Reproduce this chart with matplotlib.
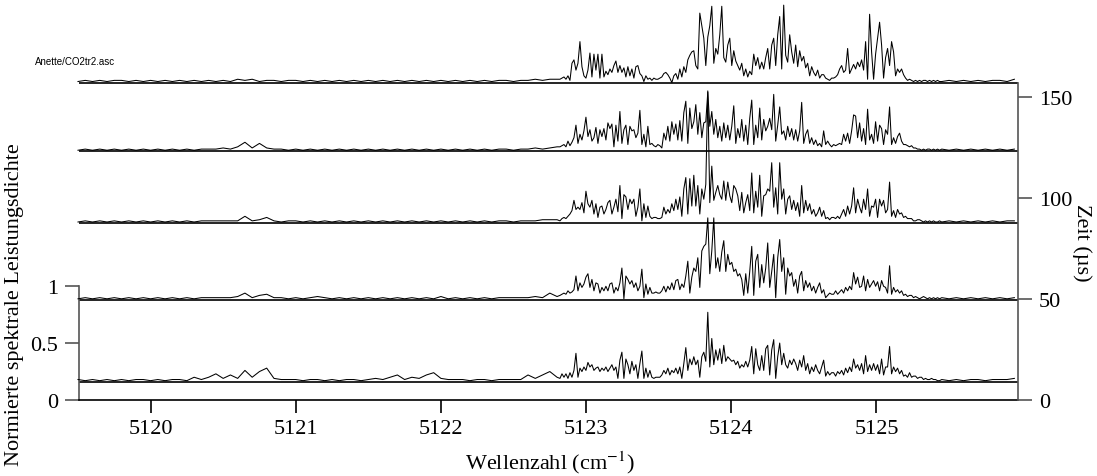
import sys
import numpy as np
import matplotlib
matplotlib.use("Agg")
import matplotlib.pyplot as plt

plt.rcParams['font.family'] = ['Liberation Serif', 'DejaVu Serif']
plt.rcParams['mathtext.fontset'] = 'stix'

# delay time of each spectrum (µs), bottom to top
zeit_us = [9.0, 49.5, 87.5, 123.0, 157.0]

# wavenumber sampling (cm^-1)
wn_left = np.linspace(5119.50, 5122.80, 67)
wn_band = 5122.82 + 0.01376 * np.arange(191)
wn_right = np.linspace(5125.45, 5125.95, 11)

# ---- normalised spectral power density, spectrum at 9 µs ----
psd_9_left = [.02,.01,.02,.01,.02,.01,.02,.01,.02,.02,
              .01,.02,.01,.02,.02,.01,.04,.02,.04,.07,
              .03,.06,.03,.10,.04,.09,.12,.03,.02,.02,
              .02,.01,.02,.02,.01,.02,.01,.02,.02,.01,
              .02,.03,.02,.04,.06,.02,.04,.03,.06,.08,
              .03,.02,.02,.02,.01,.02,.02,.01,.02,.02,
              .02,.02,.06,.03,.06,.09,.04]
psd_9_band = [.03,.07,.04,.07,.03,.08,.04,.10,.25,.04,
              .12,.09,.13,.10,.17,.13,.15,.10,.12,.13,
              .09,.12,.10,.13,.09,.12,.15,.10,.13,.03,
              .19,.26,.03,.20,.15,.07,.18,.10,.15,.03,
              .16,.27,.03,.12,.04,.10,.04,.03,.04,.04,
              .04,.06,.10,.07,.12,.06,.10,.08,.12,.07,
              .13,.03,.16,.30,.10,.20,.15,.22,.15,.19,
              .04,.22,.26,.18,.61,.13,.38,.15,.28,.19,
              .29,.16,.32,.18,.22,.20,.18,.19,.15,.18,
              .12,.15,.13,.18,.13,.19,.31,.07,.29,.15,
              .10,.23,.10,.29,.32,.06,.28,.37,.03,.22,
              .34,.15,.25,.15,.12,.19,.15,.20,.16,.10,
              .19,.13,.23,.10,.16,.07,.13,.09,.15,.10,
              .07,.13,.19,.05,.09,.06,.08,.08,.05,.09,
              .07,.10,.06,.12,.08,.13,.09,.20,.12,.15,
              .10,.16,.07,.23,.09,.15,.10,.16,.10,.15,
              .07,.20,.06,.13,.13,.31,.07,.13,.09,.12,
              .07,.10,.05,.06,.04,.08,.04,.05,.05,.03,
              .04,.04,.02,.03,.02,.02,.03,.02,.02,.01,
              .01]
psd_9_right = [.02,.01,.02,.01,.02,.02,.01,.02,.02,.02,.03]

# ---- spectrum at 49.5 µs ----
psd_50_left = [.01,.02,.01,.02,.01,.02,.01,.02,.01,.02,
               .01,.02,.01,.02,.01,.02,.01,.02,.02,.02,
               .02,.02,.03,.06,.02,.04,.05,.02,.02,.01,
               .02,.01,.02,.03,.02,.01,.02,.01,.02,.01,
               .02,.01,.02,.01,.02,.01,.02,.01,.02,.01,
               .03,.01,.02,.01,.02,.01,.02,.01,.02,.02,
               .02,.02,.02,.03,.02,.06,.03]
psd_50_band = [.04,.05,.06,.05,.08,.06,.07,.09,.21,.08,
               .15,.11,.14,.20,.23,.11,.18,.08,.15,.14,
               .06,.11,.08,.12,.08,.14,.15,.06,.11,.08,
               .15,.28,.01,.21,.18,.14,.17,.11,.15,.08,
               .12,.27,.02,.14,.05,.11,.06,.06,.07,.06,
               .06,.08,.12,.07,.12,.09,.15,.09,.17,.18,
               .09,.14,.11,.21,.34,.06,.20,.28,.25,.37,
               .11,.43,.47,.49,.72,.23,.43,.72,.28,.37,
               .25,.42,.52,.25,.40,.31,.33,.25,.27,.21,
               .23,.18,.04,.23,.06,.25,.47,.04,.34,.40,
               .11,.31,.15,.28,.50,.11,.25,.40,.02,.37,
               .53,.25,.37,.05,.28,.21,.24,.12,.18,.06,
               .21,.25,.08,.17,.11,.15,.08,.12,.06,.11,
               .15,.06,.09,.02,.04,.06,.05,.05,.08,.05,
               .07,.09,.06,.11,.08,.12,.09,.24,.14,.20,
               .11,.12,.21,.08,.18,.11,.14,.17,.12,.16,
               .08,.17,.12,.11,.06,.30,.05,.11,.07,.09,
               .06,.08,.04,.05,.03,.04,.04,.02,.03,.02,
               .01,.02,.03,.02,.01,.02,.01,.02,.01,.02,
               .01]
psd_50_right = [.02,.01,.02,.01,.02,.01,.02,.01,.02,.01,.02]

# ---- spectrum at 87.5 µs ----
psd_88_left = [.01,.02,.01,.02,.01,.02,.01,.02,.01,.02,
               .01,.02,.01,.02,.01,.02,.01,.02,.02,.02,
               .02,.02,.02,.06,.02,.03,.05,.02,.01,.02,
               .02,.01,.02,.01,.02,.01,.02,.01,.02,.01,
               .02,.01,.02,.01,.02,.01,.02,.01,.02,.01,
               .02,.01,.02,.01,.02,.01,.02,.01,.02,.02,
               .01,.02,.02,.02,.03,.03,.03]
psd_88_band = [.02,.04,.05,.04,.06,.08,.11,.20,.12,.14,
               .12,.18,.09,.28,.17,.14,.20,.08,.17,.05,
               .14,.15,.08,.12,.18,.20,.08,.14,.21,.10,
               .33,.04,.25,.23,.12,.21,.17,.21,.06,.14,
               .30,.02,.17,.05,.15,.06,.04,.05,.05,.04,
               .04,.05,.14,.08,.12,.09,.17,.11,.21,.12,
               .23,.06,.30,.40,.08,.39,.15,.42,.15,.33,
               .08,.30,.21,.34,1.16,.18,.50,.20,.27,.33,
               .25,.21,.37,.20,.36,.24,.18,.33,.30,.24,
               .11,.27,.09,.18,.25,.11,.44,.09,.28,.14,
               .42,.06,.24,.25,.30,.28,.53,.14,.31,.08,
               .53,.21,.30,.08,.21,.24,.12,.20,.11,.18,
               .06,.33,.09,.20,.11,.17,.08,.12,.06,.09,
               .14,.06,.11,.04,.05,.03,.05,.05,.04,.06,
               .04,.08,.12,.06,.15,.08,.15,.31,.09,.21,
               .14,.09,.21,.12,.30,.06,.15,.14,.21,.05,
               .21,.15,.20,.09,.12,.36,.06,.11,.05,.12,
               .08,.09,.05,.06,.04,.04,.04,.02,.02,.03,
               .03,.02,.01,.02,.01,.02,.01,.02,.01,.01,
               .02]
psd_88_right = [.01,.02,.01,.02,.01,.02,.01,.02,.01,.02,.02]

# ---- spectrum at 123 µs ----
psd_123_left = [.01,.02,.01,.02,.01,.02,.01,.02,.01,.02,
                .01,.02,.01,.02,.01,.02,.01,.02,.02,.02,
                .03,.02,.04,.08,.03,.07,.03,.02,.02,.01,
                .02,.01,.02,.01,.02,.01,.02,.01,.02,.01,
                .02,.01,.02,.01,.02,.01,.02,.01,.02,.01,
                .02,.01,.02,.01,.02,.01,.02,.01,.02,.02,
                .01,.02,.02,.03,.02,.03,.04]
psd_123_band = [.04,.05,.06,.04,.09,.05,.08,.12,.23,.07,
                .15,.10,.18,.30,.13,.19,.09,.12,.21,.07,
                .19,.13,.20,.10,.25,.20,.24,.04,.23,.09,
                .35,.07,.19,.23,.06,.22,.18,.19,.12,.16,
                .36,.06,.15,.04,.22,.06,.07,.05,.04,.06,
                .05,.03,.16,.10,.22,.09,.26,.15,.24,.10,
                .27,.09,.34,.44,.07,.38,.20,.26,.41,.15,
                .34,.12,.25,.26,.52,.22,.35,.15,.28,.12,
                .22,.09,.25,.12,.23,.10,.22,.40,.07,.20,
                .12,.28,.09,.23,.06,.29,.45,.06,.23,.12,
                .38,.10,.28,.18,.22,.29,.19,.50,.09,.23,
                .39,.15,.18,.10,.22,.13,.20,.10,.19,.09,
                .18,.43,.07,.15,.19,.07,.12,.06,.10,.05,
                .07,.04,.18,.06,.09,.06,.04,.06,.05,.06,
                .07,.06,.15,.09,.16,.07,.18,.32,.31,.12,
                .25,.09,.20,.06,.37,.10,.15,.07,.26,.09,
                .23,.20,.06,.19,.15,.39,.06,.12,.07,.13,
                .16,.09,.06,.06,.05,.04,.05,.03,.03,.02,
                .02,.01,.02,.01,.02,.02,.01,.02,.01,.02,
                .01]
psd_123_right = [.02,.01,.02,.01,.02,.01,.02,.01,.02,.01,.02]

# ---- spectrum at 157 µs ----
psd_157_left = [.01,.02,.01,.02,.01,.02,.02,.01,.02,.01,
                .02,.01,.02,.01,.02,.01,.02,.01,.02,.01,
                .02,.01,.03,.02,.03,.01,.02,.02,.01,.02,
                .02,.01,.02,.01,.02,.01,.02,.01,.02,.01,
                .02,.01,.02,.01,.02,.01,.02,.01,.02,.01,
                .02,.01,.02,.01,.02,.01,.02,.01,.02,.02,
                .01,.02,.02,.03,.02,.03,.03]
psd_157_band = [.03,.04,.05,.03,.06,.02,.17,.20,.11,.17,
                .36,.14,.06,.04,.11,.26,.05,.25,.11,.25,
                .04,.25,.05,.10,.07,.12,.09,.15,.19,.09,
                .15,.09,.13,.05,.14,.06,.12,.04,.14,.15,
                .08,.06,.01,.06,.03,.04,.02,.04,.03,.03,
                .04,.05,.08,.09,.07,.04,.00,.06,.08,.03,
                .12,.05,.14,.09,.20,.24,.27,.28,.15,.12,
                .61,.50,.39,.15,.40,.50,.67,.17,.30,.25,
                .42,.67,.22,.18,.33,.39,.15,.28,.19,.15,
                .11,.17,.06,.12,.05,.10,.07,.25,.15,.22,
                .12,.18,.12,.22,.30,.12,.33,.39,.15,.42,
                .58,.12,.68,.24,.18,.42,.27,.17,.33,.14,
                .28,.19,.23,.13,.17,.06,.14,.09,.06,.11,
                .04,.07,.07,.04,.03,.02,.04,.04,.05,.07,
                .12,.15,.09,.11,.30,.08,.12,.16,.12,.18,
                .14,.20,.11,.36,.03,.60,.27,.03,.25,.39,
                .53,.33,.04,.22,.30,.15,.36,.27,.06,.12,
                .09,.12,.07,.04,.02,.03,.02,.01,.02,.01,
                .02,.01,.02,.02,.01,.02,.01,.02,.01,.02,
                .01]
psd_157_right = [.01,.02,.01,.02,.01,.02,.01,.02,.02,.01,.03]

lefts = [psd_9_left, psd_50_left, psd_88_left, psd_123_left, psd_157_left]
bands = [psd_9_band, psd_50_band, psd_88_band, psd_123_band, psd_157_band]
rights = [psd_9_right, psd_50_right, psd_88_right, psd_123_right, psd_157_right]

x_ticks = [5120, 5121, 5122, 5123, 5124, 5125]
psd_ticks = [0, 0.5, 1]
psd_tick_labels = ['0', '0.5', '1']
zeit_ticks = [0, 50, 100, 150]

# display scale: one unit of normalised density corresponds to this many µs
us_per_unit = 56.4

W, H = 1097, 477
fig = plt.figure(figsize=(W / 100, H / 100), dpi=100)
ax = fig.add_axes([79 / W, 76 / H, 939 / W, 401 / H])
xlo, xhi = 5119.507, 5125.975
ytop = 401 / 114
ax.set_xlim(xlo, xhi)
ax.set_ylim(0, ytop)

for t, l, b, r in zip(zeit_us, lefts, bands, rights):
    off = t / us_per_unit
    n_l = min(len(wn_left), len(l)); n_b = min(len(wn_band), len(b)); n_r = min(len(wn_right), len(r))
    if (len(l), len(b), len(r)) != (len(wn_left), len(wn_band), len(wn_right)):
        print('length mismatch', t, len(l), len(b), len(r), file=sys.stderr)
    x = np.concatenate([wn_left[:n_l], wn_band[:n_b], wn_right[:n_r]])
    y = off + np.concatenate([np.asarray(l[:n_l]), np.asarray(b[:n_b]), np.asarray(r[:n_r])])
    ax.plot(x, y, color='black', lw=0.75, clip_on=False, zorder=3)
    ax.hlines(off, xlo, xhi, color='black', lw=1.2, zorder=2)

gray = '#555555'
ax.spines['top'].set_visible(False)
ax.spines['right'].set_visible(False)
ax.spines['left'].set_bounds(0, 1)
ax.spines['left'].set_color(gray)
ax.spines['left'].set_linewidth(1.2)
ax.spines['bottom'].set_linewidth(1.2)
ax.set_xticks(x_ticks)
ax.set_xticklabels([str(v) for v in x_ticks])
ax.set_yticks(psd_ticks)
ax.set_yticklabels(psd_tick_labels)
ax.tick_params(axis='x', direction='out', length=9, width=1.2, labelsize=16, pad=5)
ax.tick_params(axis='y', direction='out', length=10, width=1.2, color=gray, labelsize=16, pad=5)

ax2 = ax.twinx()
ax2.set_ylim(0, ytop * us_per_unit)
for s in ['top', 'left', 'bottom']:
    ax2.spines[s].set_visible(False)
ax2.spines['right'].set_bounds(0, zeit_us[-1])
ax2.spines['right'].set_color(gray)
ax2.spines['right'].set_linewidth(1.2)
ax2.set_yticks(zeit_ticks)
ax2.set_yticklabels([str(v) for v in zeit_ticks])
ax2.tick_params(axis='y', direction='out', length=10, width=1.2, color=gray, labelsize=16, pad=5)

fig.text(15 / W, 1 - 305 / H, 'Normierte spektrale Leistungsdichte', rotation=90,
         ha='center', va='center', fontsize=16)
fig.text(550 / W, 1 - 463 / H, r'Wellenzahl (cm$^{-1}$)', ha='center', va='center', fontsize=16)
fig.text(1082 / W, 1 - 243 / H, 'Zeit (µs)', rotation=270, ha='center', va='center', fontsize=16)
fig.text(35 / W, 1 - 65 / H, 'Anette/CO2tr2.asc', family=['Liberation Sans', 'DejaVu Sans'],
         fontsize=7, ha='left', va='baseline')

fig.savefig('out.png', dpi=100)
